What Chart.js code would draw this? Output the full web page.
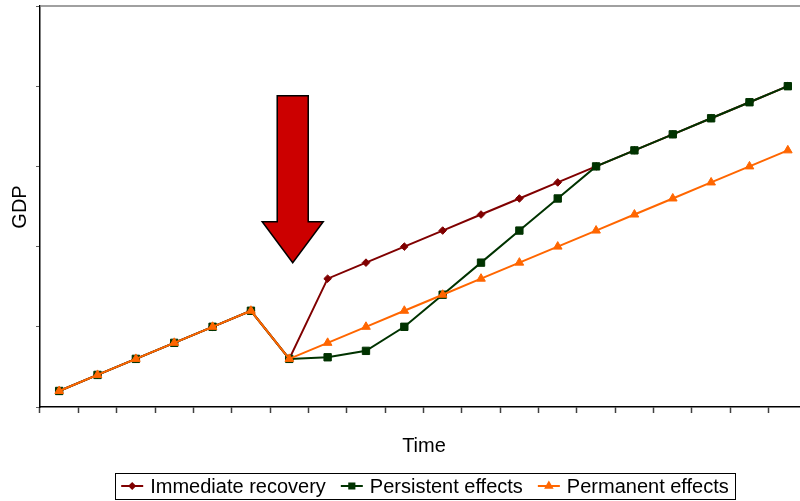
<!DOCTYPE html>
<html>
<head>
<meta charset="utf-8">
<script src="https://cdn.jsdelivr.net/npm/chart.js@4.4.1/dist/chart.umd.min.js"></script>
<style>
  html,body{margin:0;padding:0;background:#fff;overflow:hidden}
  #wrap{width:800px;height:501px;overflow:hidden;position:relative}
  canvas{display:block}
</style>
</head>
<body>
<div id="wrap"><canvas id="gdp-chart" width="808" height="501"></canvas></div>
<script>
/* ── Data ── */
const periods    = Array.from({length:20}, (_,i)=>'t'+(i+1));
const immediate  = [1,2,3,4,5,6,3, 8,9,10,11,12,13,14,15,16,17,18,19,20];
const persistent = [1,2,3,4,5,6,3, 3.1,3.5,5,7,9,11,13,15,16,17,18,19,20];
const permanent  = [1,2,3,4,5,6,3, 4,5,6,7,8,9,10,11,12,13,14,15,16];
const yTicks     = [0,5,10,15,20,25];

const C_RED='#800000', C_GREEN='#003300', C_ORANGE='#FF6600';
const FONT = '"Liberation Sans", Arial, sans-serif';

/* ── Extras: frame top, axis titles, shock arrow, boxed legend ── */
const extras = {
  id:'extras',
  afterDraw(chart){
    const {ctx, chartArea:a, scales:{x,y}} = chart;
    ctx.save();
    // top border of plot area
    ctx.strokeStyle='#808080'; ctx.lineWidth=1.5;
    ctx.beginPath(); ctx.moveTo(a.left,a.top); ctx.lineTo(a.right,a.top); ctx.stroke();

    // axis titles
    ctx.fillStyle='#000'; ctx.font='20px '+FONT;
    ctx.textAlign='center'; ctx.textBaseline='middle';
    ctx.fillText('Time', 424, 446);
    ctx.save(); ctx.translate(20, 207); ctx.rotate(-Math.PI/2); ctx.fillText('GDP',0,0); ctx.restore();

    // shock arrow
    const cx = x.getPixelForValue(6.09);
    const top = y.getPixelForValue(19.4), neck = y.getPixelForValue(11.55), tip = y.getPixelForValue(9);
    ctx.beginPath();
    ctx.moveTo(cx-15.5, top); ctx.lineTo(cx+15.5, top); ctx.lineTo(cx+15.5, neck);
    ctx.lineTo(cx+30.5, neck); ctx.lineTo(cx, tip); ctx.lineTo(cx-30.5, neck);
    ctx.lineTo(cx-15.5, neck); ctx.closePath();
    ctx.fillStyle='#CC0000'; ctx.fill();
    ctx.strokeStyle='#000'; ctx.lineWidth=1.5; ctx.lineJoin='miter'; ctx.stroke();

    // legend
    ctx.font='20px '+FONT; ctx.textAlign='left';
    const items = chart.data.datasets.map(d=>({label:d.label, color:d.borderColor, style:d.pointStyle, r:d.pointRadius}));
    const lineW=22, gapT=7, gapI=15;
    const widths = items.map(it=>lineW+gapT+ctx.measureText(it.label).width);
    const total = widths.reduce((s,w)=>s+w,0)+gapI*(items.length-1);
    let lx = 425 - total/2;
    const ly = 486;
    ctx.strokeStyle='#000'; ctx.lineWidth=1;
    ctx.strokeRect(Math.round(lx-6)+0.5, 473.5, Math.round(total+12), 26);
    items.forEach((it,i)=>{
      ctx.strokeStyle=it.color; ctx.lineWidth=2;
      ctx.beginPath(); ctx.moveTo(lx,ly); ctx.lineTo(lx+lineW,ly); ctx.stroke();
      Chart.helpers.drawPoint(ctx,{pointStyle:it.style, radius:it.r*0.7, rotation:0, borderWidth:1}, lx+lineW/2, ly);
      ctx.fillStyle=it.color; ctx.fill();
      ctx.fillStyle='#000';
      ctx.fillText(it.label, lx+lineW+gapT, ly+1);
      lx += widths[i]+gapI;
    });
    ctx.restore();
  }
};

function series(label, data, color, style, r, order){
  return { label, data, borderColor:color, backgroundColor:color, borderWidth:2,
           pointStyle:style, pointRadius:r, pointBorderWidth:1, pointBorderColor:color,
           pointBackgroundColor:color, tension:0, order };
}

new Chart(document.getElementById('gdp-chart'), {
  type:'line',
  data:{
    labels:periods,
    datasets:[
      series('Immediate recovery', immediate,  C_RED,    'rectRot',  3.8, 3),
      series('Persistent effects', persistent, C_GREEN,  'rect',     5.2, 2),
      series('Permanent effects',  permanent,  C_ORANGE, 'triangle', 5,   1)
    ]
  },
  options:{
    responsive:false, animation:false,
    layout:{ autoPadding:false, padding:{ top:6, right:1, left:0, bottom:0 } },
    plugins:{ legend:{display:false}, tooltip:{enabled:false} },
    scales:{
      x:{
        offset:true,
        grid:{ drawOnChartArea:false, drawTicks:true, tickLength:6, tickColor:'#404040', tickWidth:1.5, offset:true },
        border:{ color:'#000', width:1.5 },
        ticks:{ display:false },
        afterFit(s){ s.height = 94; }
      },
      y:{
        min:yTicks[0], max:yTicks[yTicks.length-1],
        afterBuildTicks(s){ s.ticks = yTicks.map(v=>({value:v})); },
        grid:{ drawOnChartArea:false, drawTicks:true, tickLength:4, tickColor:'#606060', tickWidth:1 },
        border:{ color:'#000', width:1.5 },
        ticks:{ display:false },
        afterFit(s){ s.width = 40; }
      }
    }
  },
  plugins:[extras]
});
</script>
</body>
</html>
